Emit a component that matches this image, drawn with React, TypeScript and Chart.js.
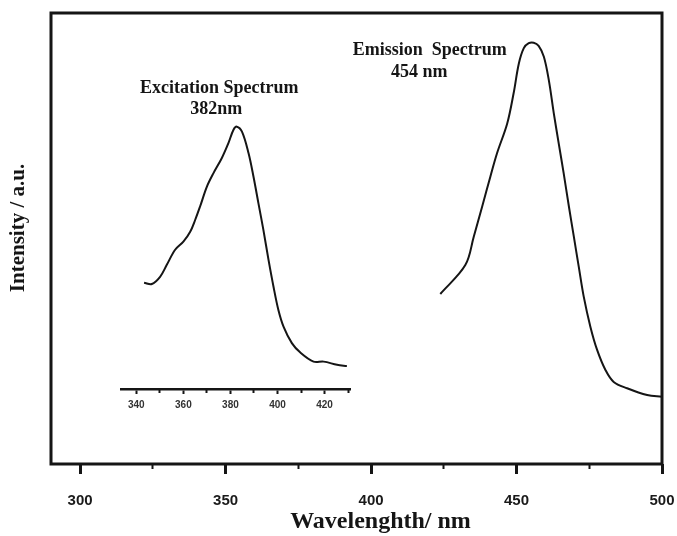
import React, { useEffect, useRef } from "react";
import { Chart, registerables } from "chart.js";

Chart.register(...registerables);

// ---- data ----
const mainTicks = [300, 350, 400, 450, 500];
const mainMinorTicks = [325, 375, 425, 475];
const insetTicks = [340, 360, 380, 400, 420];
const insetMinorTicks = [350, 370, 390, 410, 430];

// Emission spectrum (main axis, nm) and intensity (a.u.)
const emissionNm = [
  423.8, 432.4, 435.3, 438.2, 441.0, 443.3, 446.8, 449.0, 450.8, 452.5,
  454.2, 455.9, 457.6, 459.4, 461.1, 462.8, 464.5, 466.2, 468.0, 469.7,
  471.4, 473.1, 475.4, 477.7, 480.6, 483.4, 488.0, 494.9, 500.0,
];
const emissionInt = [
  37.7, 44.1, 50.4, 57.1, 63.7, 68.9, 75.5, 82.2, 88.8, 92.2,
  93.3, 93.4, 92.7, 90.3, 85.1, 77.8, 71.1, 64.5, 57.1, 50.4,
  43.7, 37.1, 30.4, 25.3, 20.8, 18.2, 16.8, 15.3, 14.9,
];

// Excitation spectrum (inset axis, nm) and intensity (a.u.)
const excitationNm = [
  343.3, 346.6, 350.1, 352.9, 356.5, 360.0, 362.9, 365.0, 367.1, 370.0,
  372.8, 376.3, 379.1, 381.3, 382.7, 384.9, 387.7, 389.8, 391.9, 394.0,
  396.2, 398.3, 400.4, 402.6, 406.1, 409.7, 415.3, 419.6, 425.3, 429.5,
];
const excitationInt = [
  40.2, 39.9, 41.5, 44.1, 47.5, 49.3, 51.5, 54.1, 57.1, 61.5,
  64.5, 67.8, 71.1, 74.1, 74.8, 73.7, 68.9, 63.7, 57.8, 51.9,
  45.2, 39.3, 34.1, 30.4, 26.8, 24.7, 22.7, 22.7, 22.0, 21.7,
];

const peakLabelTexts = ["Excitation Spectrum", "382nm", "Emission  Spectrum", "454 nm"];
const peakLabelX = [347.8, 346.8, 420.2, 416.6];
const peakLabelY = [82.3, 77.6, 90.7, 85.8];

const SERIF = '"Liberation Serif", "Times New Roman", serif';
const SANS = '"Liberation Sans", Arial, sans-serif';
const INK = "#151515";

const INSET_Y_MIN = 16.63;

const framePlugin = {
  id: "frame",
  afterDatasetsDraw(chart: any) {
    const { ctx, chartArea: a } = chart;
    ctx.save();
    ctx.strokeStyle = INK;
    ctx.lineWidth = 3;
    ctx.strokeRect(a.left, a.top, a.right - a.left, a.bottom - a.top);
    ctx.restore();
  },
};

const peakLabelPlugin = {
  id: "peakLabels",
  afterDraw(chart: any) {
    const { ctx, scales } = chart;
    ctx.save();
    ctx.font = `bold 18px ${SERIF}`;
    ctx.fillStyle = INK;
    ctx.textAlign = "center";
    ctx.textBaseline = "alphabetic";
    peakLabelTexts.forEach((t, i) => {
      ctx.fillText(
        t,
        scales.x.getPixelForValue(peakLabelX[i]),
        scales.y.getPixelForValue(peakLabelY[i])
      );
    });
    ctx.restore();
  },
};

export default function App() {
  const mainRef = useRef<HTMLCanvasElement | null>(null);
  const insetRef = useRef<HTMLCanvasElement | null>(null);

  useEffect(() => {
    if (!mainRef.current || !insetRef.current) return;

    const main = new Chart(mainRef.current, {
      type: "line",
      data: {
        datasets: [
          {
            label: "Emission",
            data: emissionNm.map((x, i) => ({ x, y: emissionInt[i] })),
            borderColor: INK,
            borderWidth: 2,
            pointRadius: 0,
            tension: 0.35,
            fill: false,
          },
        ],
      },
      options: {
        responsive: false,
        animation: false,
        devicePixelRatio: 1,
        layout: { padding: { top: 13, right: 15, left: 0, bottom: 0 } },
        plugins: { legend: { display: false }, tooltip: { enabled: false } },
        scales: {
          x: {
            type: "linear",
            min: 290,
            max: 500,
            position: "bottom",
            afterBuildTicks: (s: any) => {
              s.ticks = mainTicks.map((v) => ({ value: v }));
            },
            afterFit: (s: any) => {
              s.height = 72;
              s.paddingLeft = 0;
              s.paddingRight = 0;
            },
            border: { display: false },
            grid: {
              display: true,
              drawOnChartArea: false,
              drawTicks: true,
              tickLength: 10,
              tickWidth: 3,
              tickColor: INK,
            },
            ticks: {
              autoSkip: false,
              maxRotation: 0,
              padding: 18,
              color: "#1a1a1a",
              font: { family: SANS, size: 15, weight: "bold" },
            },
            title: {
              display: true,
              text: "\u2002\u2002\u2002\u2002Wavelenghth/ nm",
              color: INK,
              font: { family: SERIF, size: 24, weight: "bold" },
              padding: { top: 0, bottom: 0 },
            },
          },
          xMinor: {
            type: "linear",
            min: 290,
            max: 500,
            position: { y: 0 },
            afterBuildTicks: (s: any) => {
              s.ticks = mainMinorTicks.map((v) => ({ value: v }));
            },
            afterFit: (s: any) => {
              s.paddingLeft = 0;
              s.paddingRight = 0;
            },
            border: { display: false },
            grid: {
              display: true,
              drawOnChartArea: false,
              drawTicks: true,
              tickLength: 5,
              tickWidth: 2,
              tickColor: INK,
            },
            ticks: { display: false },
          },
          y: {
            type: "linear",
            min: 0,
            max: 100,
            position: "left",
            afterFit: (s: any) => {
              s.width = 51;
            },
            border: { display: false },
            grid: { display: false },
            ticks: { display: false },
            title: {
              display: true,
              text: "\u2003Intensity / a.u.",
              color: INK,
              font: { family: SERIF, size: 21, weight: "bold" },
              padding: { top: 6, bottom: 0 },
            },
          },
        },
      },
      plugins: [framePlugin, peakLabelPlugin],
    } as any);

    const inset = new Chart(insetRef.current, {
      type: "line",
      data: {
        datasets: [
          {
            label: "Excitation",
            data: excitationNm.map((x, i) => ({ x, y: excitationInt[i] })),
            borderColor: INK,
            borderWidth: 2,
            pointRadius: 0,
            tension: 0.35,
            fill: false,
          },
        ],
      },
      options: {
        responsive: false,
        animation: false,
        devicePixelRatio: 1,
        layout: { padding: { top: 13, right: 327, left: 121, bottom: 0 } },
        plugins: { legend: { display: false }, tooltip: { enabled: false } },
        scales: {
          x: {
            type: "linear",
            min: 333.5,
            max: 430.8,
            position: "bottom",
            afterBuildTicks: (s: any) => {
              s.ticks = insetTicks.map((v) => ({ value: v }));
            },
            afterFit: (s: any) => {
              s.height = 147;
              s.paddingLeft = 0;
              s.paddingRight = 0;
            },
            border: { display: true, width: 2.5, color: INK },
            grid: {
              display: true,
              drawOnChartArea: false,
              drawTicks: true,
              tickLength: 5,
              tickWidth: 2,
              tickColor: INK,
            },
            ticks: {
              autoSkip: false,
              maxRotation: 0,
              padding: 5,
              color: "#333",
              font: { family: SANS, size: 10, weight: "bold" },
            },
          },
          xMinor: {
            type: "linear",
            min: 333.5,
            max: 430.8,
            position: { y: INSET_Y_MIN },
            afterBuildTicks: (s: any) => {
              s.ticks = insetMinorTicks.map((v) => ({ value: v }));
            },
            border: { display: false },
            grid: {
              display: true,
              drawOnChartArea: false,
              drawTicks: true,
              tickLength: 4,
              tickWidth: 2,
              tickColor: INK,
            },
            ticks: { display: false },
          },
          y: {
            type: "linear",
            min: INSET_Y_MIN,
            max: 100,
            display: false,
          },
        },
      },
    } as any);

    return () => {
      main.destroy();
      inset.destroy();
    };
  }, []);

  return (
    <div
      style={{
        position: "fixed",
        left: 0,
        top: 0,
        width: 677,
        height: 536,
        background: "#ffffff",
      }}
    >
      <canvas
        ref={mainRef}
        width={677}
        height={536}
        style={{ position: "absolute", left: 0, top: 0, width: 677, height: 536 }}
      />
      <canvas
        ref={insetRef}
        width={677}
        height={536}
        style={{
          position: "absolute",
          left: 0,
          top: 0,
          width: 677,
          height: 536,
          pointerEvents: "none",
        }}
      />
    </div>
  );
}
